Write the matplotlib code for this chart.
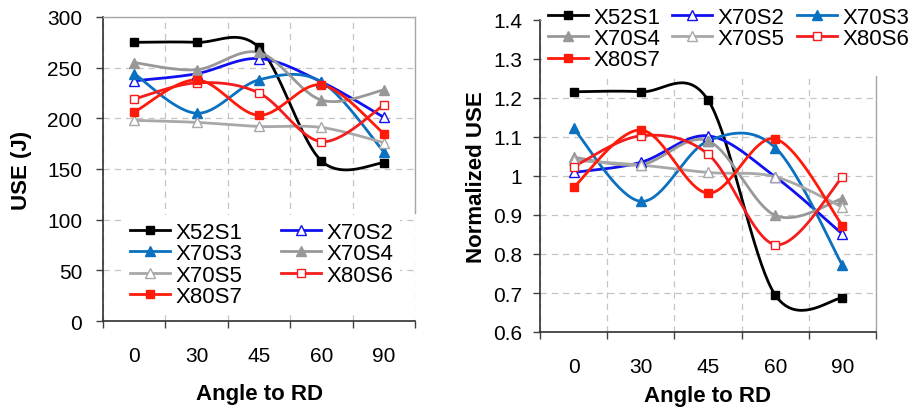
import numpy as np
import matplotlib.pyplot as plt
from matplotlib.ticker import FixedLocator, MultipleLocator

plt.rcParams['font.family'] = ['Liberation Sans', 'DejaVu Sans']

# ---------------- data ----------------
angles = ['0', '30', '45', '60', '90']
series = ['X52S1', 'X70S2', 'X70S3', 'X70S4', 'X70S5', 'X80S6', 'X80S7']

# USE (J)
use_x52s1 = [275, 275, 270, 158, 156]
use_x70s2 = [237, 244, 259, 236, 201]
use_x70s3 = [244, 205, 238, 236, 167]
use_x70s4 = [255, 248, 265, 218, 228]
use_x70s5 = [198, 196, 192, 191, 176]
use_x80s6 = [219, 235, 225, 177, 213]
use_x80s7 = [206, 238, 203, 233, 185]

# normalized USE
nrm_x52s1 = [1.216, 1.216, 1.195, 0.695, 0.687]
nrm_x70s2 = [1.009, 1.035, 1.103, 0.998, 0.851]
nrm_x70s3 = [1.122, 0.935, 1.090, 1.073, 0.771]
nrm_x70s4 = [1.048, 1.029, 1.090, 0.899, 0.942]
nrm_x70s5 = [1.040, 1.028, 1.009, 0.998, 0.920]
nrm_x80s6 = [1.024, 1.103, 1.056, 0.824, 0.997]
nrm_x80s7 = [0.971, 1.118, 0.956, 1.095, 0.873]

use_vals = [use_x52s1, use_x70s2, use_x70s3, use_x70s4, use_x70s5, use_x80s6, use_x80s7]
nrm_vals = [nrm_x52s1, nrm_x70s2, nrm_x70s3, nrm_x70s4, nrm_x70s5, nrm_x80s6, nrm_x80s7]

# style per series: color, marker, filled
styles = [('#000000', 's', True),
          ('#1010F0', '^', False),
          ('#0A70C0', '^', True),
          ('#989898', '^', True),
          ('#A8A8A8', '^', False),
          ('#F41C1C', 's', False),
          ('#FF1A0A', 's', True)]


def smooth(x, y, n=40):
    # Excel-like smoothed line (Catmull-Rom bezier segments)
    p = np.column_stack([x, y]).astype(float)
    pts = [p[0]]
    for i in range(len(p) - 1):
        p0 = p[i - 1] if i > 0 else p[i]
        p3 = p[i + 2] if i + 2 < len(p) else p[i + 1]
        b1 = p[i] + (p[i + 1] - p0) / 6
        b2 = p[i + 1] - (p3 - p[i]) / 6
        t = np.linspace(0, 1, n)[1:, None]
        seg = ((1 - t) ** 3 * p[i] + 3 * (1 - t) ** 2 * t * b1
               + 3 * (1 - t) * t ** 2 * b2 + t ** 3 * p[i + 1])
        pts.extend(seg)
    pts = np.array(pts)
    return pts[:, 0], pts[:, 1]


def draw(ax, vals):
    xpos = np.arange(len(angles))
    handles = []
    for name, v, (c, m, filled) in zip(series, vals, styles):
        sx, sy = smooth(xpos, v)
        ax.plot(sx, sy, color=c, lw=2, zorder=2)
        ax.plot(xpos, v, ls='none', marker=m, ms=5.5 if m == 's' else 6.5,
                mec=c, mfc=c if filled else 'white', mew=1, zorder=3)
        h, = ax.plot([], [], color=c, lw=2, marker=m, ms=5.5 if m == 's' else 6.5,
                     mec=c, mfc=c if filled else 'white', mew=1, label=name)
        handles.append(h)

    ax.set_xlim(-0.5, len(angles) - 0.5)
    ax.set_xticks(xpos)
    ax.set_xticklabels(angles)
    ax.xaxis.set_minor_locator(FixedLocator(np.arange(-0.5, len(angles), 1.0)))
    ax.tick_params(axis='x', which='major', length=0, pad=18, labelsize=15)
    ax.tick_params(axis='x', which='minor', length=5, width=1, color='#404040', direction='out')
    ax.tick_params(axis='y', which='major', length=5, width=1, color='#404040', direction='out', labelsize=15)
    ax.set_axisbelow(True)
    ax.grid(True, axis='y', which='major', color='#C4C4C4', ls=(0, (5, 4)), lw=0.9)
    ax.grid(True, axis='x', which='minor', color='#C4C4C4', ls=(0, (5, 4)), lw=0.9)
    for s in ['left', 'bottom']:
        ax.spines[s].set_color('#303030')
        ax.spines[s].set_linewidth(1.2)
    for s in ['top', 'right']:
        ax.spines[s].set_color('#A6A6A6')
        ax.spines[s].set_linewidth(1.0)
    return handles


fig = plt.figure(figsize=(9.12, 4.1), dpi=100)

# left panel: USE
ax1 = fig.add_axes([103 / 912, 1 - 322 / 410, 312 / 912, 304 / 410])
h1 = draw(ax1, use_vals)
ax1.set_ylim(0, 300)
ax1.yaxis.set_major_locator(MultipleLocator(50))
ax1.tick_params(axis='y', pad=10)
ax1.spines['right'].set_bounds(107, 300)
ax1.set_ylabel('USE (J)', fontsize=16, fontweight='bold')
ax1.yaxis.set_label_coords(-0.26, 0.497)
ax1.yaxis.label.set_va('center')
ax1.set_xlabel('Angle to RD', fontsize=16, fontweight='bold')
ax1.xaxis.set_label_coords(0.503, -0.24)
ax1.xaxis.label.set_va('center')
# legend entries run row by row, as in the original
order1 = [0, 2, 4, 6, 1, 3, 5]
leg1 = ax1.legend(handles=[h1[i] for i in order1], ncol=2, loc='upper left', fontsize=16,
                  bbox_to_anchor=(123 / 912, 1 - 216 / 410), bbox_transform=fig.transFigure,
                  frameon=True, facecolor='white', edgecolor='none', framealpha=1,
                  borderpad=0.3, labelspacing=0.02, handlelength=1.8,
                  handletextpad=0.25, columnspacing=1.75, borderaxespad=0)

# right panel: normalized USE
ax2 = fig.add_axes([540 / 912, 1 - 333 / 410, 336 / 912, 312 / 410])
h2 = draw(ax2, nrm_vals)
ax2.set_ylim(0.6, 1.4)
ax2.set_yticks(np.round(np.arange(0.6, 1.41, 0.1), 1))
ax2.set_yticklabels(['0.6', '0.7', '0.8', '0.9', '1', '1.1', '1.2', '1.3', '1.4'])
ax2.tick_params(axis='y', pad=8)
ax2.set_ylabel('Normalized USE', fontsize=16, fontweight='bold')
ax2.yaxis.set_label_coords(-0.1875, 0.5)
ax2.yaxis.label.set_va('center')
ax2.set_xlabel('Angle to RD', fontsize=16, fontweight='bold')
ax2.xaxis.set_label_coords(0.5, -0.205)
ax2.xaxis.label.set_va('center')
order2 = [0, 3, 6, 1, 4, 2, 5]
leg2 = ax2.legend(handles=[h2[i] for i in order2], ncol=3, loc='upper left', fontsize=16,
                  bbox_to_anchor=(542 / 912, 1 - 2 / 410), bbox_transform=fig.transFigure,
                  frameon=True, facecolor='white', edgecolor='none', framealpha=1,
                  borderpad=0.25, labelspacing=0.02, handlelength=1.8,
                  handletextpad=0.25, columnspacing=0.55, borderaxespad=0)

fig.savefig('out.png', dpi=100)
